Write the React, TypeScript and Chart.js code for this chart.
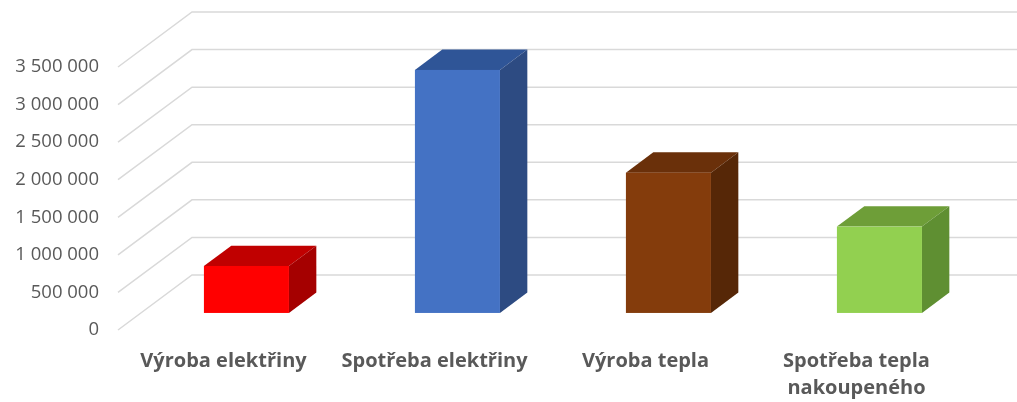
import React, { useEffect, useRef } from "react";
import { Chart, registerables } from "chart.js";

Chart.register(...registerables);

const categories: string[][] = [
  ["Výroba elektřiny"],
  ["Spotřeba elektřiny"],
  ["Výroba tepla"],
  ["Spotřeba tepla", "nakoupeného"],
];
const values: number[] = [625000, 3234000, 1867000, 1149000];
const frontColors: string[] = ["#FF0000", "#4472C4", "#843C0C", "#92D050"];
const topColors: string[] = ["#C00000", "#2F5597", "#6A300A", "#6E9E38"];
const sideColors: string[] = ["#A50000", "#2D4B82", "#562707", "#5F8F32"];
const yTickValues: number[] = [0, 500000, 1000000, 1500000, 2000000, 2500000, 3000000, 3500000];

// depth vector (front plane -> back wall) and bar placement within depth
const DEPTH_X = 74;
const DEPTH_Y = 55;
const BAR_FRONT = 0.31;
const BAR_BACK = 0.68;

const fmt = (v: number) => String(Math.round(v)).replace(/\B(?=(\d{3})+(?!\d))/g, " ");

const threeD = {
  id: "threeD",
  beforeDatasetsDraw(chart: any) {
    const ctx = chart.ctx;
    const y = chart.scales.y;
    const area = chart.chartArea;
    ctx.save();
    ctx.strokeStyle = "#D9D9D9";
    ctx.lineWidth = 1.5;
    for (const v of yTickValues) {
      const py = y.getPixelForValue(v);
      ctx.beginPath();
      ctx.moveTo(area.left, py);
      ctx.lineTo(area.left + DEPTH_X, py - DEPTH_Y);
      ctx.lineTo(chart.width, py - DEPTH_Y);
      ctx.stroke();
    }
    ctx.restore();
  },
  afterDatasetsDraw(chart: any) {
    const ctx = chart.ctx;
    const meta = chart.getDatasetMeta(0);
    ctx.save();
    meta.data.forEach((bar: any, i: number) => {
      const { x, y, base, width } = bar.getProps(["x", "y", "base", "width"], true);
      const l = x - width / 2 + BAR_FRONT * DEPTH_X;
      const r = x + width / 2 + BAR_FRONT * DEPTH_X;
      const t = y - BAR_FRONT * DEPTH_Y;
      const b = base - BAR_FRONT * DEPTH_Y;
      const ox = (BAR_BACK - BAR_FRONT) * DEPTH_X;
      const oy = (BAR_BACK - BAR_FRONT) * DEPTH_Y;
      // top face
      ctx.fillStyle = topColors[i];
      ctx.beginPath();
      ctx.moveTo(l, t);
      ctx.lineTo(r, t);
      ctx.lineTo(r + ox, t - oy);
      ctx.lineTo(l + ox, t - oy);
      ctx.closePath();
      ctx.fill();
      // side face
      ctx.fillStyle = sideColors[i];
      ctx.beginPath();
      ctx.moveTo(r, t);
      ctx.lineTo(r + ox, t - oy);
      ctx.lineTo(r + ox, b - oy);
      ctx.lineTo(r, b);
      ctx.closePath();
      ctx.fill();
      // front face
      ctx.fillStyle = frontColors[i];
      ctx.fillRect(l, t, r - l, b - t);
    });
    ctx.restore();
  },
};

export default function App() {
  const ref = useRef<HTMLCanvasElement | null>(null);
  useEffect(() => {
    document.body.style.margin = "0";
    if (!ref.current) return;
    const chart = new Chart(ref.current, {
      type: "bar",
      data: {
        labels: categories,
        datasets: [
          {
            data: values,
            backgroundColor: "rgba(0,0,0,0)",
            borderWidth: 0,
            categoryPercentage: 1,
            barPercentage: 0.403,
          },
        ],
      },
      options: {
        responsive: false,
        animation: false,
        layout: { padding: { top: 67, right: 55, left: 0, bottom: 0 } },
        plugins: { legend: { display: false }, tooltip: { enabled: false } },
        scales: {
          x: {
            grid: { display: false, drawTicks: false },
            border: { display: false },
            ticks: {
              color: "#595959",
              padding: 18,
              maxRotation: 0,
              autoSkip: false,
              font: { family: "'Open Sans', sans-serif", size: 20, weight: "bold", lineHeight: 1.35 },
            },
            afterFit: (s: any) => {
              s.height = 72;
            },
          },
          y: {
            min: 0,
            max: 3500000,
            grid: { display: false, drawTicks: false },
            border: { display: false },
            ticks: {
              stepSize: 500000,
              color: "#595959",
              padding: 19,
              font: { family: "'Open Sans', sans-serif", size: 18.5 },
              callback: (v: any) => fmt(Number(v)),
            },
            afterFit: (s: any) => {
              s.width = 118;
            },
          },
        },
      },
      plugins: [threeD],
    });
    return () => chart.destroy();
  }, []);
  return <canvas ref={ref} width={1017} height={402} />;
}
